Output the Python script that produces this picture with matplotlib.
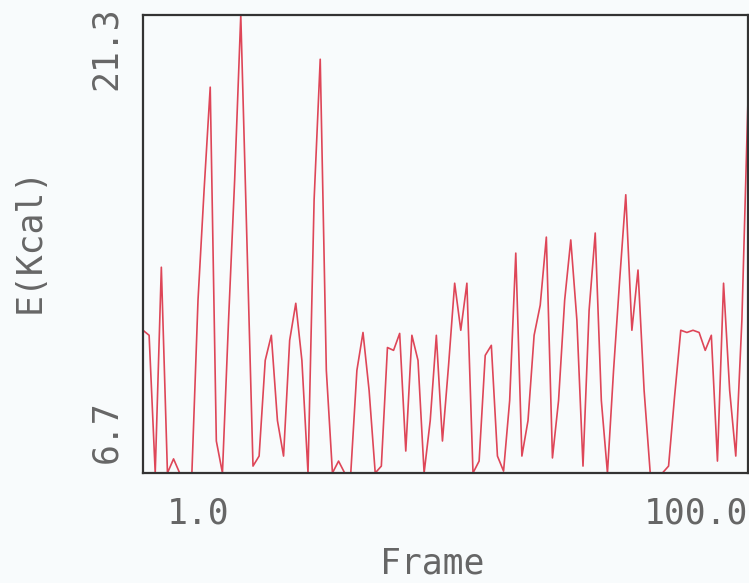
import matplotlib
matplotlib.use("Agg")
import matplotlib.pyplot as plt

# energy per frame
frames = list(range(1, 101))
energy = [
    11.25, 11.09, 6.70, 13.26, 6.70, 7.15, 6.70, 6.70, 6.70, 12.21,
    15.73, 19.00, 7.72, 6.70, 11.57, 16.05, 21.30, 14.13, 6.92, 7.24,
    10.29, 11.09, 8.37, 7.24, 10.93, 12.11, 10.29, 6.70, 15.41, 19.89,
    9.97, 6.70, 7.08, 6.70, 6.70, 9.97, 11.18, 9.33, 6.70, 6.92,
    10.70, 10.61, 11.15, 7.40, 11.09, 10.29, 6.70, 8.37, 11.09, 7.72,
    10.13, 12.75, 11.25, 12.75, 6.70, 7.08, 10.45, 10.77, 7.24, 6.76,
    9.01, 13.71, 7.24, 8.37, 11.09, 12.05, 14.22, 7.18, 9.01, 12.21,
    14.13, 11.57, 6.92, 11.89, 14.35, 9.01, 6.70, 9.97, 12.85, 15.57,
    11.25, 13.17, 9.33, 6.70, 6.70, 6.70, 6.92, 9.17, 11.25, 11.18,
    11.25, 11.18, 10.61, 11.09, 7.08, 12.75, 9.33, 7.24, 11.57, 18.61,
]
x_labels = ["1.0", "100.0"]
y_labels = ["6.7", "21.3"]

bg = "#f8fbfc"
txt = "#666666"

fig = plt.figure(figsize=(7.49, 5.83), dpi=100, facecolor=bg)
ax = fig.add_axes([143 / 749, 1 - 473 / 583, 605 / 749, 458 / 583])
ax.set_facecolor(bg)
ax.plot(frames, energy, color="#de4658", lw=1.2)
ax.set_xlim(frames[0], frames[-1])
ax.set_ylim(min(energy), max(energy))
ax.set_xticks([])
ax.set_yticks([])
for s in ax.spines.values():
    s.set_color("#333333")
    s.set_linewidth(1.6)

font = dict(family="DejaVu Sans Mono", color=txt, fontsize=25)
fig.text(198 / 749, 1 - 513 / 583, x_labels[0], ha="center", va="center", **font)
fig.text(748 / 749, 1 - 513 / 583, x_labels[1], ha="right", va="center", **font)
fig.text(432 / 749, 1 - 563 / 583, "Frame", ha="center", va="center", **font)
fig.text(106 / 749, 1 - 432 / 583, y_labels[0], ha="center", va="center", rotation=90, **font)
fig.text(106 / 749, 1 - 48 / 583, y_labels[1], ha="center", va="center", rotation=90, **font)
fig.text(30 / 749, 1 - 240 / 583, "E(Kcal)", ha="center", va="center", rotation=90, **font)

fig.savefig("out.png", dpi=100, facecolor=bg)
